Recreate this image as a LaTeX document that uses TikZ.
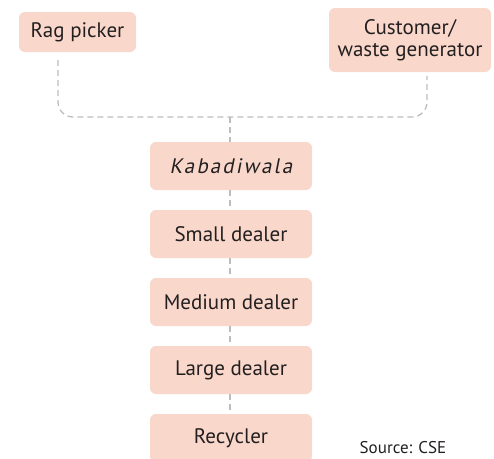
\documentclass[tikz,border=0pt]{standalone}
\usepackage{fontspec}
\setmainfont{PT Sans}
\newfontfamily\slantfont[FakeSlant=0.2,LetterSpace=10]{PT Sans}
\begin{document}
\begin{tikzpicture}[x=1pt,y=-1pt,
  box/.style={fill=boxfill, rounded corners=6pt, text=txt, font=\fontsize{21}{24}\selectfont, align=center, inner sep=0pt},
  conn/.style={draw=lgray, line width=1.3pt, dash pattern=on 6pt off 4pt}]
\definecolor{boxfill}{HTML}{F9D8CB}
\definecolor{txt}{HTML}{231F20}
\definecolor{lgray}{HTML}{BDBDBD}
\useasboundingbox (0,0) rectangle (494,458);
\node[box, minimum width=117pt, minimum height=40pt] (rag) at (77.5,32) {Rag picker};
\node[box, minimum width=162pt, minimum height=64pt] (cust) at (410,40) {Customer/\\[-2pt]waste generator};
\node[box, minimum width=162pt, minimum height=48pt] (kab) at (231,166) {\slantfont Kabadiwala};
\node[box, minimum width=162pt, minimum height=48pt] (small) at (231,234) {Small dealer};
\node[box, minimum width=162pt, minimum height=48pt] (med) at (231,302) {Medium dealer};
\node[box, minimum width=162pt, minimum height=48pt] (large) at (231,370) {Large dealer};
\node[box, minimum width=162pt, minimum height=48pt] (rec) at (231,438) {Recycler};
\node[text=txt, font=\fontsize{17}{20}\selectfont, inner sep=0pt] (src) at (403,448) {Source: CSE};
\coordinate (ragend) at (58,60);
\coordinate (custend) at (427,76);
\coordinate (j) at (230,117);
\draw[conn, rounded corners=15pt] (ragend) |- (j) -| (custend);
\draw[conn] (j) -- (j |- kab.north);
\draw[conn] (kab.south -| j) -- (small.north -| j);
\draw[conn] (small.south -| j) -- (med.north -| j);
\draw[conn] (med.south -| j) -- (large.north -| j);
\draw[conn] (large.south -| j) -- (rec.north -| j);
\end{tikzpicture}
\end{document}
